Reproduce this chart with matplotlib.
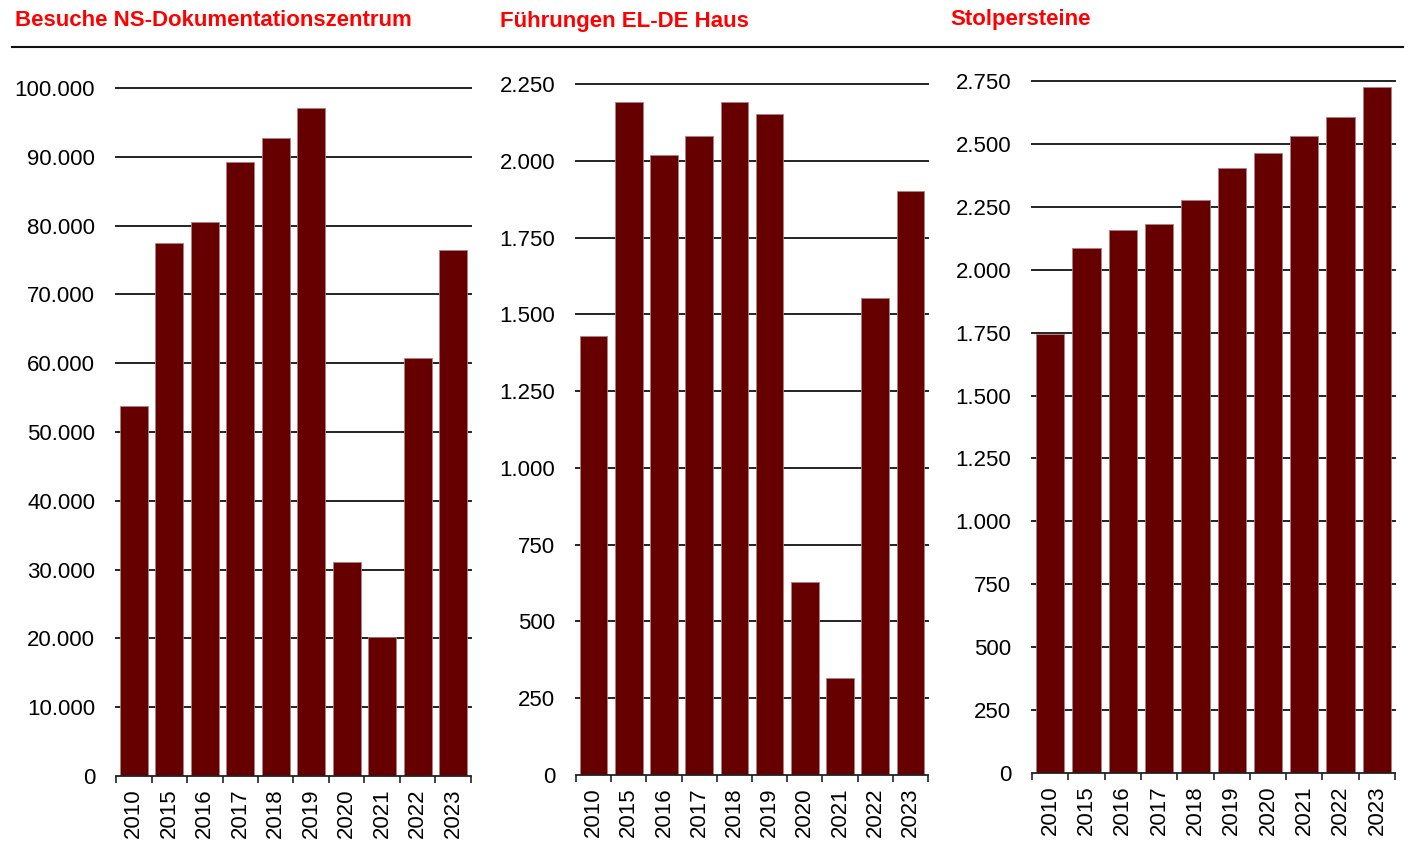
import matplotlib.pyplot as plt
from matplotlib.lines import Line2D
from matplotlib.ticker import FuncFormatter, FixedLocator
import numpy as np

years = ['2010', '2015', '2016', '2017', '2018', '2019', '2020', '2021', '2022', '2023']

besuche = [53800, 77500, 80500, 89200, 92800, 97100, 31100, 20200, 60800, 76500]
fuehrungen = [1429, 2192, 2018, 2080, 2192, 2151, 628, 316, 1552, 1900]
stolpersteine = [1745, 2088, 2157, 2181, 2277, 2403, 2462, 2531, 2606, 2727]

titles = ['Besuche NS-Dokumentationszentrum', 'Führungen EL-DE Haus', 'Stolpersteine']
series = [besuche, fuehrungen, stolpersteine]
ymax = [100000, 2250, 2750]
ystep = [10000, 250, 250]

plt.rcParams['font.family'] = ['Liberation Sans', 'DejaVu Sans']

fig = plt.figure(figsize=(14.08, 8.43), dpi=100)

# axes boxes in figure fractions (left, bottom, width, height)
boxes = [
    (0.0824, 0.0795, 0.2521, 0.8161),
    (0.4091, 0.0807, 0.2500, 0.8197),
    (0.7330, 0.0830, 0.2578, 0.8209),
]
title_x = [15 / 1408, 500 / 1408, 950 / 1408]
title_y = [1 - 21 / 843, 1 - 21 / 843, 1 - 19 / 843]

bar_color = '#660000'
fmt = FuncFormatter(lambda v, p: f'{v:,.0f}'.replace(',', '.'))

for i in range(3):
    ax = fig.add_axes(boxes[i])
    x = np.arange(len(years))
    ax.bar(x, series[i], width=0.78, color=bar_color, edgecolor='#b08080',
           linewidth=0.6, zorder=3)
    ax.set_xlim(-0.5, len(years) - 0.5)
    ax.set_ylim(0, ymax[i])
    ticks = np.arange(0, ymax[i] + 1, ystep[i])
    ax.set_yticks(ticks)
    ax.yaxis.set_major_formatter(fmt)
    for t in ticks[1:]:
        ax.axhline(t, color='#222222', linewidth=1.4, zorder=1, clip_on=False)
    for s in ['top', 'right', 'left']:
        ax.spines[s].set_visible(False)
    ax.spines['bottom'].set_color('#222222')
    ax.spines['bottom'].set_linewidth(1.3)
    ax.spines['bottom'].set_zorder(4)
    ax.set_xticks(x)
    ax.set_xticklabels(years, rotation=90)
    ax.xaxis.set_minor_locator(FixedLocator(np.arange(-0.5, len(years), 1)))
    ax.tick_params(axis='x', which='major', length=0, pad=9, labelsize=16)
    ax.tick_params(axis='x', which='minor', length=5, width=1.2, color='#222222')
    ax.tick_params(axis='y', length=0, pad=15, labelsize=16)
    fig.text(title_x[i], title_y[i], titles[i], color='#ff0000', fontsize=16,
             fontweight='bold', ha='left', va='center')

fig.add_artist(Line2D([12 / 1408, 1403 / 1408], [1 - 47 / 843, 1 - 47 / 843],
                      color='#111111', linewidth=1.5, transform=fig.transFigure))

fig.savefig('out.png', dpi=100)
